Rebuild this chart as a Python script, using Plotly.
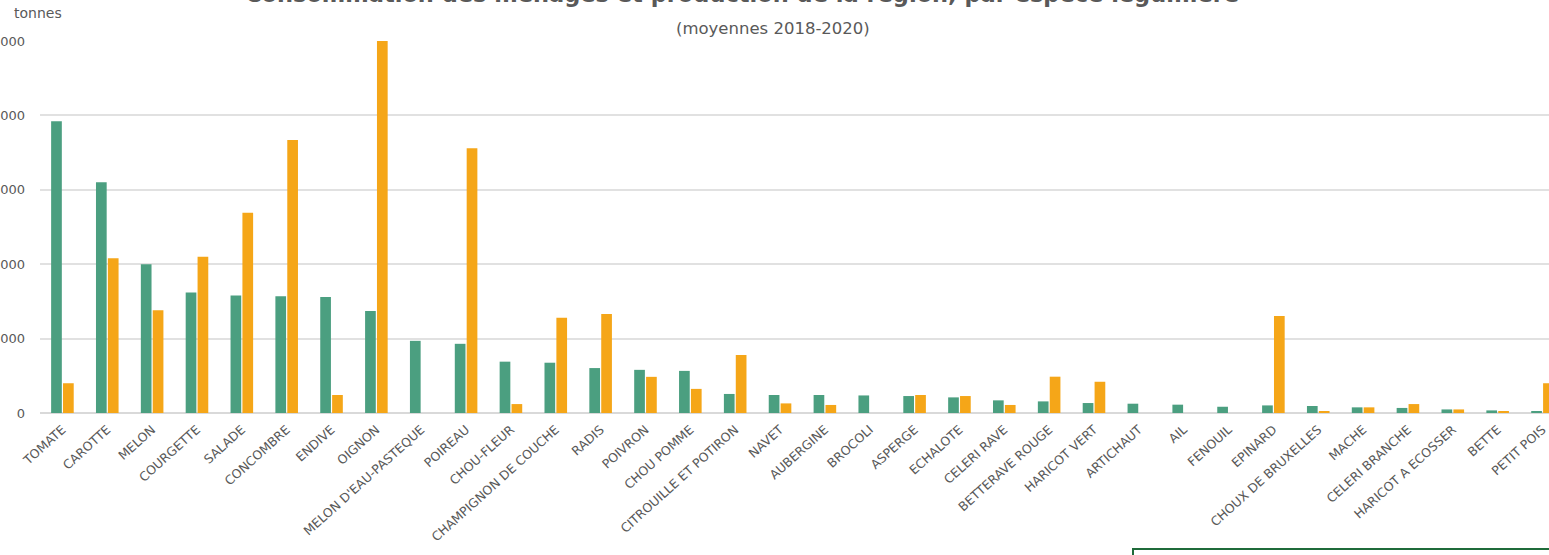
import plotly.graph_objects as go

categories = ["TOMATE", "CAROTTE", "MELON", "COURGETTE", "SALADE", "CONCOMBRE", "ENDIVE",
              "OIGNON", "MELON D'EAU-PASTEQUE", "POIREAU", "CHOU-FLEUR", "CHAMPIGNON DE COUCHE",
              "RADIS", "POIVRON", "CHOU POMME", "CITROUILLE ET POTIRON", "NAVET", "AUBERGINE",
              "BROCOLI", "ASPERGE", "ECHALOTE", "CELERI RAVE", "BETTERAVE ROUGE", "HARICOT VERT",
              "ARTICHAUT", "AIL", "FENOUIL", "EPINARD", "CHOUX DE BRUXELLES", "MACHE",
              "CELERI BRANCHE", "HARICOT A ECOSSER", "BETTE", "PETIT POIS"]

consommation = [19600, 15500, 10000, 8100, 7900, 7850, 7800,
                6850, 4850, 4650, 3450, 3380,
                3020, 2900, 2830, 1280, 1210, 1210,
                1180, 1140, 1050, 850, 780, 670,
                625, 560, 420, 510, 470, 380,
                340, 240, 175, 110]

production = [2000, 10400, 6900, 10500, 13450, 18350, 1210,
              25000, 0, 17800, 600, 6400,
              6650, 2430, 1620, 3900, 645, 540,
              0, 1210, 1140, 540, 2440, 2100,
              0, 0, 0, 6520, 110, 380,
              600, 240, 111, 2000]

y_tickvals = [0, 5000, 10000, 15000, 20000, 25000]
y_ticktext = ["0", "5 000", "10 000", "15 000", "20 000", "25 000"]

GREEN = "#4b9f80"
ORANGE = "#f5a618"
TXT = "#595959"
FONT = "DejaVu Sans"

W, H = 1549, 555
L, T, B = 40, 41, 142
plot_h = H - T - B
plot_w = W - L


def py(px):
    return 1 + (T - px) / plot_h


def pxx(px):
    return (px - L) / plot_w


fig = go.Figure()
fig.add_trace(go.Bar(x=categories, y=consommation, name="Consommation des ménages",
                     marker=dict(color=GREEN, line=dict(width=0))))
fig.add_trace(go.Bar(x=categories, y=production, name="Production de la région",
                     marker=dict(color=ORANGE, line=dict(width=0))))

fig.update_layout(
    width=W, height=H,
    margin=dict(l=L, r=0, t=T, b=B, autoexpand=False),
    paper_bgcolor="white", plot_bgcolor="white",
    barmode="group", bargap=0.47, bargroupgap=0.1,
    showlegend=False,
    font=dict(family=FONT, color=TXT),
)

fig.update_xaxes(
    type="category", range=[-0.5, 33.145], tickangle=-42,
    tickfont=dict(family=FONT, size=12.5, color=TXT),
    showgrid=False, showline=False, ticks="", ticklabelstandoff=6, automargin=False,
)
fig.update_yaxes(
    range=[0, 25000], tickvals=y_tickvals, ticktext=y_ticktext,
    tickfont=dict(family=FONT, size=13, color=TXT),
    showgrid=True, gridcolor="#e1e1e1", gridwidth=1.5,
    zeroline=True, zerolinecolor="#d9d9d9", zerolinewidth=2,
    showline=False, ticks="", ticklabelstandoff=14, automargin=False,
)

fig.add_annotation(text="<b>Consommation des ménages et production de la région, par espèce légumière</b>",
                   xref="paper", yref="paper", x=pxx(742), y=py(9), xanchor="center", yanchor="bottom",
                   showarrow=False, font=dict(family=FONT, size=22.5, color=TXT))
fig.add_annotation(text="(moyennes 2018-2020)",
                   xref="paper", yref="paper", x=pxx(773), y=py(28), xanchor="center", yanchor="middle",
                   showarrow=False, font=dict(family=FONT, size=16.5, color=TXT))
fig.add_annotation(text="tonnes",
                   xref="paper", yref="paper", x=pxx(38), y=py(13), xanchor="center", yanchor="middle",
                   showarrow=False, font=dict(family=FONT, size=14, color=TXT))

fig.add_shape(type="rect", xref="paper", yref="paper",
              x0=pxx(1133), x1=pxx(1560), y0=py(549), y1=py(575),
              line=dict(color="#1f6b3a", width=2), fillcolor="rgba(0,0,0,0)")

fig.write_html("out.html", config={"displayModeBar": False},
               post_script="document.body.style.margin='0';document.body.style.overflow='hidden';")
